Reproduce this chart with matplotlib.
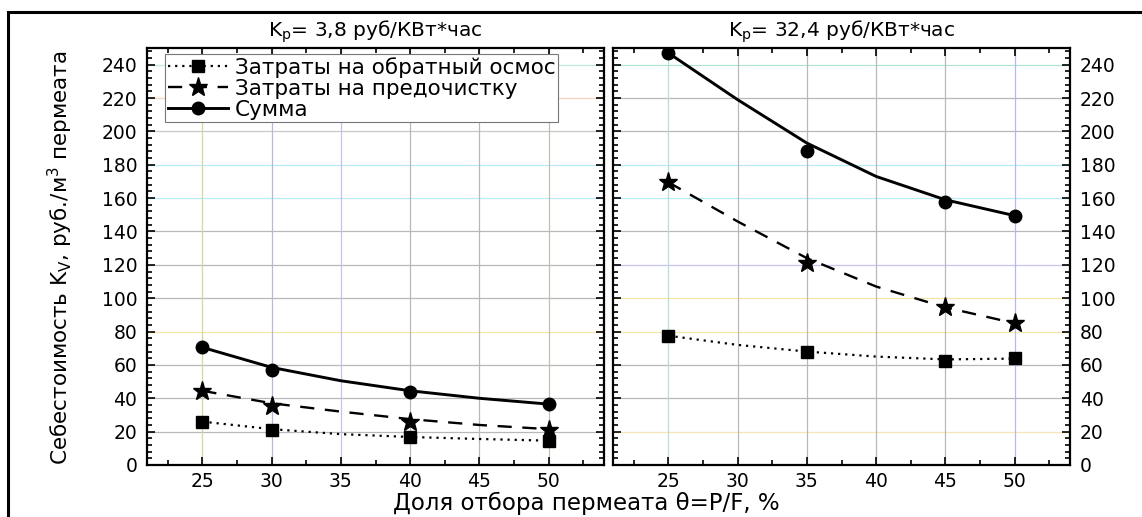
import matplotlib
matplotlib.use("Agg")
from matplotlib import pyplot as plt
from matplotlib.patches import Rectangle
import numpy as np

plt.rcParams['font.family'] = ['DejaVu Sans']
plt.rcParams['mathtext.fontset'] = 'dejavusans'

# left panel: Kp = 3,8
x_left = [25, 30, 40, 50]
osm_left = [26, 21, 16.5, 14.5]
pre_left = [44.5, 35.5, 26, 21]
sum_left = [70.5, 57, 43.5, 36.5]

# right panel: Kp = 32,4
x_right = [25, 35, 45, 50]
osm_right = [77.5, 67.5, 62.5, 64]
pre_right = [169.5, 121, 94.5, 85]
sum_right = [247, 188.5, 157.5, 149]

# fitted curves as drawn in the picture (read at 25..50 step 5)
x_fit = [25, 30, 35, 40, 45, 50]
osm_fit_left = [26, 21.5, 18.5, 16.8, 15.6, 14.6]
pre_fit_left = [44.5, 37, 32, 27.5, 24, 21.5]
sum_fit_left = [70.5, 58.5, 50.5, 44.5, 40, 36.5]
osm_fit_right = [77.5, 72, 68, 65, 63.3, 63.8]
pre_fit_right = [169.5, 146, 124, 107, 94.5, 85]
sum_fit_right = [247, 219, 193, 173, 159, 149.5]

titles = ["K$_\\mathregular{p}$= 3,8 руб/КВт*час", "K$_\\mathregular{p}$= 32,4 руб/КВт*час"]
labels = ["Затраты на обратный осмос", "Затраты на предочистку", "Сумма"]

fig = plt.figure(figsize=(11.42, 5.17), dpi=100)
ax1 = fig.add_axes([147/1142, 52/517, 457/1142, 417/517])
ax2 = fig.add_axes([613/1142, 52/517, 457/1142, 417/517])

# faint coloured grid lines like the original (Origin export)
hgrid = {
    ax1: ['#b8b8b8', '#b8b8b8', '#b8b8b8', '#f3e6a8', '#b8b8b8', '#b8b8b8',
          '#b8b8b8', '#b8ecf5', '#b8ecf5', '#c8c8c8', '#f7d2bd', '#bfe9dc'],
    ax2: ['#f7e6b5', '#b8b8b8', '#b8b8b8', '#f3e6a8', '#f3e6a8', '#c5c5f0',
          '#b8b8b8', '#b8ecf5', '#b8ecf5', '#b8b8b8', '#b8b8b8', '#aee6cf'],
}
vgrid = {
    ax1: ['#d6d6a0', '#b8b8dc', '#c8c0e6', '#b8b8b8', '#b8b8b8', '#c0c0b0'],
    ax2: ['#b8e0d0', '#b8b8b8', '#b8b8b8', '#b8b8b8', '#b8b8b8', '#b8b8ee'],
}

for ax in (ax1, ax2):
    for v, c in zip(range(20, 250, 20), hgrid[ax]):
        ax.axhline(v, color=c, lw=0.9, zorder=0)
    for v, c in zip(range(25, 55, 5), vgrid[ax]):
        ax.axvline(v, color=c, lw=0.9, zorder=0)

DOT = (0, (1, 2.2))
DASH = (0, (6, 4.5))

def draw(ax, x, osm, pre, tot, fo, fp, fs):
    ax.plot(x_fit, fo, color='black', ls=DOT, lw=1.6)
    ax.plot(x_fit, fp, color='black', ls=DASH, lw=1.7)
    ax.plot(x_fit, fs, color='black', ls='-', lw=2.1)
    ax.plot(x, osm, 's', color='black', ms=8.5, ls='none')
    ax.plot(x, pre, '*', color='black', ms=14, ls='none')
    ax.plot(x, tot, 'o', color='black', ms=9, ls='none')

draw(ax1, x_left, osm_left, pre_left, sum_left, osm_fit_left, pre_fit_left, sum_fit_left)
draw(ax2, x_right, osm_right, pre_right, sum_right, osm_fit_right, pre_fit_right, sum_fit_right)

for ax, t in zip((ax1, ax2), titles):
    ax.set_xlim(21, 54)
    ax.set_ylim(0, 250)
    ax.set_xticks(range(25, 55, 5))
    ax.set_xticks(np.arange(22.5, 54, 5), minor=True)
    ax.set_yticks(range(0, 250, 20))
    ax.set_yticks(range(0, 251, 4), minor=True)
    ax.tick_params(which='both', direction='in', top=True, right=True, width=1.2)
    ax.tick_params(which='major', length=6, labelsize=13.5)
    ax.tick_params(which='minor', length=3.5)
    ax.tick_params(axis='x', pad=5)
    ax.tick_params(axis='y', pad=7)
    for s in ax.spines.values():
        s.set_linewidth(1.6)
    ax.set_title(t, fontsize=14.5, pad=8)

ax2.tick_params(axis='y', labelleft=False, labelright=True)

h = [plt.Line2D([], [], color='black', ls=DOT, lw=1.6, marker='s', ms=8.5),
     plt.Line2D([], [], color='black', ls=DASH, lw=1.7, marker='*', ms=14),
     plt.Line2D([], [], color='black', ls='-', lw=2.1, marker='o', ms=9)]
leg = ax1.legend(h, labels, loc='upper left', bbox_to_anchor=(0.04, 0.985),
                 fontsize=15.5, fancybox=False, edgecolor='#777777', framealpha=1,
                 handlelength=2.8, handletextpad=0.3, borderpad=0.12, labelspacing=0.05,
                 borderaxespad=0)
leg.get_frame().set_linewidth(0.8)

fig.text(60/1142, 1 - 258/517, "Себестоимость K$_\\mathregular{V}$, руб./м$^\\mathregular{3}$ пермеата",
         rotation=90, ha='center', va='center', fontsize=15.5)
fig.text(586/1142, 1 - 503/517, "Доля отбора пермеата θ=P/F, %",
         ha='center', va='center', fontsize=16.5)

fig.patches.append(Rectangle((8/1142, -0.1), 1.2, (1 - 12/517) + 0.1,
                             transform=fig.transFigure, fill=False,
                             edgecolor='black', lw=2.2))

fig.savefig("out.png", dpi=100)
